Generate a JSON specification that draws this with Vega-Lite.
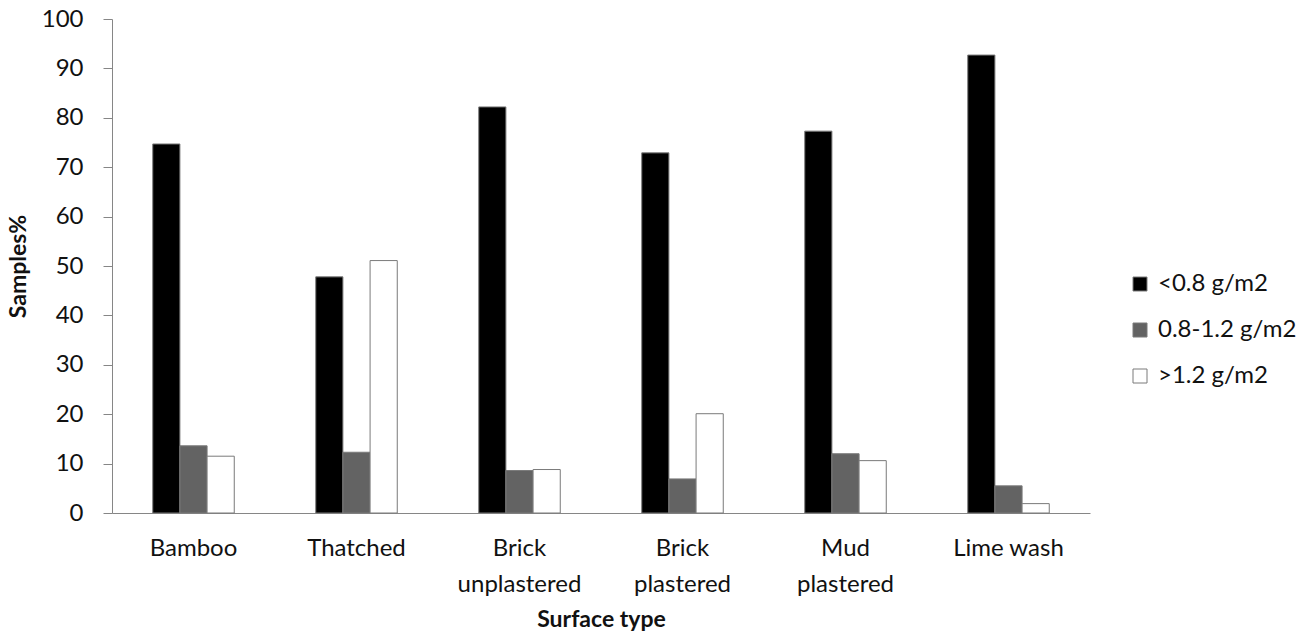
{
  "$schema": "https://vega.github.io/schema/vega-lite/v6.json",
  "autosize": {"type": "none"},
  "width": 978,
  "height": 494,
  "padding": {"left": 112, "top": 19, "right": 215, "bottom": 123},
  "background": "white",
  "config": {
    "view": {"stroke": null},
    "font": "Lato",
    "axis": {
      "labelFont": "Lato",
      "titleFont": "Lato",
      "labelColor": "#111111",
      "titleColor": "#111111",
      "domainColor": "#868686",
      "tickColor": "#868686",
      "grid": false
    }
  },
  "data": {
    "values": [
      {"surface": "Bamboo", "load": "<0.8 g/m2", "pct": 74.7},
      {"surface": "Bamboo", "load": "0.8-1.2 g/m2", "pct": 13.6},
      {"surface": "Bamboo", "load": ">1.2 g/m2", "pct": 11.5},
      {"surface": "Thatched", "load": "<0.8 g/m2", "pct": 47.8},
      {"surface": "Thatched", "load": "0.8-1.2 g/m2", "pct": 12.3},
      {"surface": "Thatched", "load": ">1.2 g/m2", "pct": 51.1},
      {"surface": "Brick unplastered", "load": "<0.8 g/m2", "pct": 82.2},
      {"surface": "Brick unplastered", "load": "0.8-1.2 g/m2", "pct": 8.6},
      {"surface": "Brick unplastered", "load": ">1.2 g/m2", "pct": 8.8},
      {"surface": "Brick plastered", "load": "<0.8 g/m2", "pct": 72.9},
      {"surface": "Brick plastered", "load": "0.8-1.2 g/m2", "pct": 6.9},
      {"surface": "Brick plastered", "load": ">1.2 g/m2", "pct": 20.1},
      {"surface": "Mud plastered", "load": "<0.8 g/m2", "pct": 77.3},
      {"surface": "Mud plastered", "load": "0.8-1.2 g/m2", "pct": 12.0},
      {"surface": "Mud plastered", "load": ">1.2 g/m2", "pct": 10.6},
      {"surface": "Lime wash", "load": "<0.8 g/m2", "pct": 92.7},
      {"surface": "Lime wash", "load": "0.8-1.2 g/m2", "pct": 5.5},
      {"surface": "Lime wash", "load": ">1.2 g/m2", "pct": 1.9}
    ]
  },
  "mark": {"type": "bar", "stroke": "#7a7a7a", "strokeWidth": 1},
  "encoding": {
    "x": {
      "field": "surface",
      "type": "nominal",
      "sort": ["Bamboo", "Thatched", "Brick unplastered", "Brick plastered", "Mud plastered", "Lime wash"],
      "scale": {"paddingInner": 0.5, "paddingOuter": 0.25},
      "axis": {
        "title": "Surface type",
        "titleFontSize": 23,
        "titleFontWeight": "bold",
        "titlePadding": 12,
        "labelAngle": 0,
        "labelFontSize": 24,
        "labelPadding": 23,
        "labelLineHeight": 36,
        "ticks": false,
        "labelExpr": "indexof(datum.value, 'Brick') == 0 || indexof(datum.value, 'Mud') == 0 ? split(datum.value, ' ') : datum.value"
      }
    },
    "xOffset": {
      "field": "load",
      "type": "nominal",
      "sort": ["<0.8 g/m2", "0.8-1.2 g/m2", ">1.2 g/m2"],
      "scale": {"paddingInner": 0, "paddingOuter": 0}
    },
    "y": {
      "field": "pct",
      "type": "quantitative",
      "scale": {"domain": [0, 100], "nice": false},
      "axis": {
        "title": "Samples%",
        "titleFontSize": 23,
        "titleFontWeight": "bold",
        "titlePadding": 11,
        "labelFontSize": 24,
        "labelPadding": 20,
        "tickSize": 9,
        "values": [0, 10, 20, 30, 40, 50, 60, 70, 80, 90, 100]
      }
    },
    "fill": {
      "field": "load",
      "type": "nominal",
      "sort": ["<0.8 g/m2", "0.8-1.2 g/m2", ">1.2 g/m2"],
      "scale": {"range": ["#000000", "#636363", "#ffffff"]},
      "legend": {
        "title": null,
        "orient": "none",
        "legendX": 1016,
        "legendY": 253,
        "symbolType": "square",
        "symbolSize": 196,
        "symbolStrokeColor": "#7a7a7a",
        "symbolStrokeWidth": 1,
        "labelFontSize": 24,
        "labelFont": "Lato",
        "labelColor": "#111111",
        "labelOffset": 6,
        "rowPadding": 22
      }
    }
  }
}
